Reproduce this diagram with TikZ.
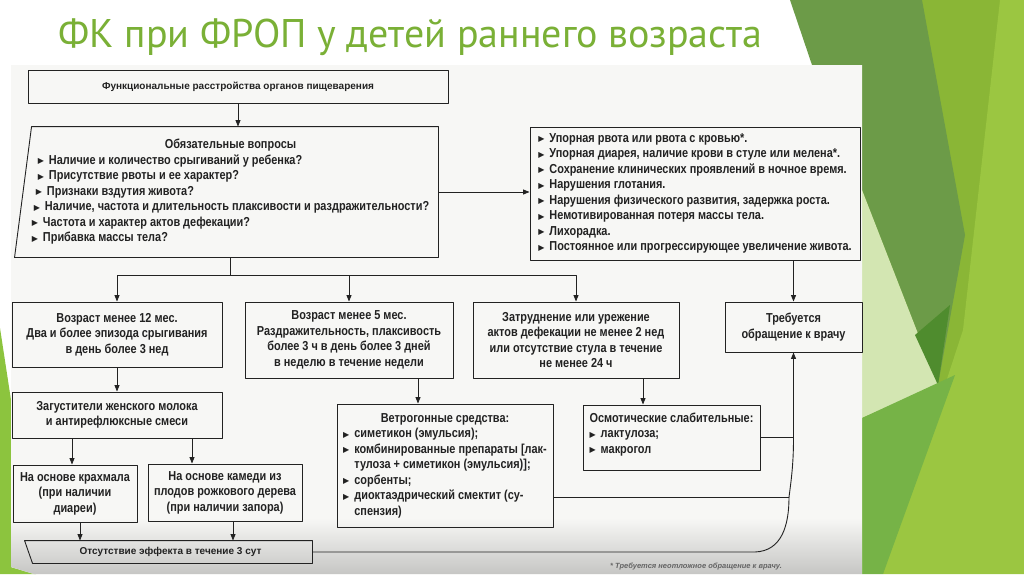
\documentclass[tikz,border=0pt]{standalone}
\usepackage{fontspec}
\setmainfont{Liberation Sans}
\newfontfamily\titlefont{PT Sans}
\newfontfamily\bookfont[FakeStretch=0.84]{Liberation Sans}
\newfontfamily\bookwide{Liberation Sans}
\newfontfamily\symfont{DejaVu Sans}
\usetikzlibrary{calc,positioning,arrows.meta}

\definecolor{ink}{HTML}{222222}
\definecolor{titlegreen}{RGB}{122,176,54}
\definecolor{gDark}{HTML}{6C9B48}
\definecolor{gDeep}{HTML}{4F8C2E}
\definecolor{gMid}{HTML}{8AB636}
\definecolor{gLight}{HTML}{9BC641}
\definecolor{gPale}{HTML}{D3E6B2}
\definecolor{gLow}{HTML}{76B347}
\definecolor{gLeft}{HTML}{8CC43E}
\definecolor{paper}{HTML}{F7F7F5}
\definecolor{paperShadow}{HTML}{C6C6C4}

\newcommand\tri{\raisebox{0.6pt}{\symfont\fontsize{8}{8}\selectfont ▶}\hspace{5pt}}
\newcommand\cont{\hphantom{\tri}}

\begin{document}
\begin{tikzpicture}[
		x=1pt,
		y=-1pt,
		line cap=round,
		line join=round,
		>={Triangle[length=6.5pt,width=5pt]},
		box/.style={draw=ink, line width=0.9pt, inner sep=0pt, align=center, text=ink,
			font=\bookfont\bfseries\fontsize{13}{15.5}\selectfont},
		smallbox/.style={box, font=\bookwide\bfseries\fontsize{10}{12}\selectfont},
		link/.style={draw=ink, line width=0.9pt},
		arr/.style={link, ->}
		]
		\useasboundingbox (0,0) rectangle (1024,574);
		
		%------------------------------------------------------------------
		% Slide background
		%------------------------------------------------------------------
		\fill[white] (0,0) rectangle (1024,574);
		\fill[gMid]   (862,0) rectangle (1024,574);
		\fill[gLight] (1000,0) -- (1024,0) -- (1024,574) -- (883,574) -- (963,330) -- cycle;
		\fill[gDark]  (790,0) -- (922,0) -- (965,235) -- (938,385) -- (862,190) -- (862,65) -- (812,65) -- cycle;
		\fill[gPale]  (862,190) -- (938,385) -- (862,418) -- cycle;
		\fill[gDeep]  (915,335) -- (950,305) -- (938,385) -- cycle;
		\fill[gLow]   (862,418) -- (955,375) -- (883,574) -- (862,574) -- cycle;
		\fill[gLeft]  (0,328) -- (11,400) -- (11,567) -- (36,574) -- (0,574) -- cycle;
		
		\node[anchor=base west, text=titlegreen, font=\titlefont\fontsize{40}{43}\selectfont]
		(title) at (55,47) {ФК при ФРОП у детей раннего возраста};
		
		%------------------------------------------------------------------
		% Book page
		%------------------------------------------------------------------
		\fill[paper] (11,65) -- (862,65) -- (862,574) -- (34,574) -- (11,567) -- cycle;
		\begin{scope}
			\clip (11,65) -- (862,65) -- (862,574) -- (34,574) -- (11,567) -- cycle;
			\shade[top color=paper, bottom color=paperShadow] (0,518) rectangle (862,574);
		\end{scope}
		
		%------------------------------------------------------------------
		% Upper boxes
		%------------------------------------------------------------------
		\node[smallbox, minimum width=420, minimum height=33] (func) at (238,86.5)
		{Функциональные расстройства органов пищеварения};
		
		\node[box, draw=none, minimum width=415, minimum height=130] (quest) at (230.5,192)
		{\begin{tabular}{@{}l@{}}
				\multicolumn{1}{@{}c@{}}{Обязательные вопросы}\\
				\hspace*{6pt}\tri Наличие и количество срыгиваний у ребенка?\\
				\hspace*{6pt}\tri Присутствие рвоты и ее характер?\\
				\hspace*{4pt}\tri Признаки вздутия живота?\\
				\hspace*{2pt}\tri Наличие, частота и длительность плаксивости и раздражительности?\\
				\tri Частота и характер актов дефекации?\\
				\tri Прибавка массы тела?
		\end{tabular}};
		\draw[link] ([xshift=9pt]quest.north west) -- (quest.north east)
		-- (quest.south east) -- ([xshift=-8pt]quest.south west) -- cycle;
		
		\node[box, minimum width=330, minimum height=133] (flags) at (695,193.5)
		{\begin{tabular}{@{}l@{}}
				\tri Упорная рвота или рвота с кровью*.\\
				\tri Упорная диарея, наличие крови в стуле или мелена*.\\
				\tri Сохранение клинических проявлений в ночное время.\\
				\tri Нарушения глотания.\\
				\tri Нарушения физического развития, задержка роста.\\
				\tri Немотивированная потеря массы тела.\\
				\tri Лихорадка.\\
				\tri Постоянное или прогрессирующее увеличение живота.
		\end{tabular}};
		
		%------------------------------------------------------------------
		% Criteria boxes
		%------------------------------------------------------------------
		\node[box, minimum width=210, minimum height=65] (age12) at (117,334.5)
		{Возраст менее 12 мес.\\Два и более эпизода срыгивания\\в день более 3 нед};
		
		\node[box, minimum width=208, minimum height=76] (age5) at (349,340)
		{Возраст менее 5 мес.\\Раздражительность, плаксивость\\более 3 ч в день более 3 дней\\в неделю в течение недели};
		
		\node[box, minimum width=206, minimum height=76] (stool) at (576,340)
		{Затруднение или урежение\\актов дефекации не менее 2 нед\\или отсутствие стула в течение\\не менее 24 ч};
		
		\node[box, minimum width=137, minimum height=50] (doctor) at (793.5,327)
		{Требуется\\обращение к врачу};
		
		%------------------------------------------------------------------
		% Treatment boxes
		%------------------------------------------------------------------
		\node[box, minimum width=210, minimum height=46] (thick) at (117,415)
		{Загустители женского молока\\и антирефлюксные смеси};
		
		\node[box, minimum width=124, minimum height=57] (starch) at (75,493.5)
		{На основе крахмала\\(при наличии\\диареи)};
		
		\node[box, minimum width=154, minimum height=57] (gum) at (225,492.5)
		{На основе камеди из\\плодов рожкового дерева\\(при наличии запора)};
		
		\node[box, minimum width=216, minimum height=123] (carm) at (445,465.5)
		{\begin{tabular}{@{}l@{}}
				\multicolumn{1}{@{}c@{}}{Ветрогонные средства:}\\
				\tri симетикон (эмульсия);\\
				\tri комбинированные препараты [лак-\\
				\cont тулоза + симетикон (эмульсия)];\\
				\tri сорбенты;\\
				\tri диоктаэдрический смектит (су-\\
				\cont спензия)
		\end{tabular}};
		
		\node[box, minimum width=177, minimum height=65] (osm) at (671.5,437.5)
		{\begin{tabular}{@{}l@{}}
				Осмотические слабительные:\\
				\tri лактулоза;\\
				\tri макрогол\\[6pt]
		\end{tabular}};
		
		\node[smallbox, draw=none, minimum width=283, minimum height=22] (noeff) at (170.5,552)
		{Отсутствие эффекта в течение 3 сут};
		\draw[link] ([xshift=-4pt]noeff.north west) -- (noeff.north east)
		-- (noeff.south east) -- ([xshift=4pt]noeff.south west) -- cycle;
		
		\node[text=ink!70, font=\bookwide\bfseries\itshape\fontsize{7.5}{9}\selectfont]
		(foot) at (696,567) {* Требуется неотложное обращение к врачу.};
		
		%------------------------------------------------------------------
		% Connectors
		%------------------------------------------------------------------
		\path (quest.south) ++(0,18) coordinate (hub);
		\coordinate (jOsm)  at (doctor.south |- osm.east);
		\coordinate (jCarm) at (789,497);
		\coordinate (rBend) at (755,552);
		
		\draw[arr] (func.south) -- (func.south |- quest.north);
		\draw[arr] (quest.east) -- (quest.east -| flags.west);
		\draw[arr] (flags.south -| doctor.north) -- (doctor.north);
		
		\draw[link] (quest.south) -- (hub);
		\draw[arr] (hub) -| (age12.north);
		\draw[arr] (hub) -| (age5.north);
		\draw[arr] (hub) -| (stool.north);
		
		\draw[arr] (age12) -- (thick);
		\draw[arr] ([xshift=-45pt]thick.south) -- ([xshift=-45pt]thick.south |- starch.north);
		\draw[arr] ([xshift=75pt]thick.south) -- ([xshift=75pt]thick.south |- gum.north);
		\draw[arr] ([xshift=5pt]starch.south) -- ([xshift=5pt]starch.south |- noeff.north);
		\draw[arr] ([xshift=8pt]gum.south) -- ([xshift=8pt]gum.south |- noeff.north);
		
		\draw[arr] ([xshift=69pt]age5.south) -- ([xshift=69pt]age5.south |- carm.north);
		\draw[arr] ([xshift=67pt]stool.south) -- ([xshift=67pt]stool.south |- osm.north);
		
		% Return path to the doctor box
		\draw[link] (osm.east) -- (jOsm);
		\draw[link] (carm.east |- jCarm) -- (jCarm);
		\draw[arr] (noeff.east |- rBend) -- (rBend)
		.. controls (782,551) and (789,525) .. (jCarm)
		.. controls (792,475) and (793.5,460) .. (jOsm) -- (doctor.south);
		
	\end{tikzpicture}
\end{document}
